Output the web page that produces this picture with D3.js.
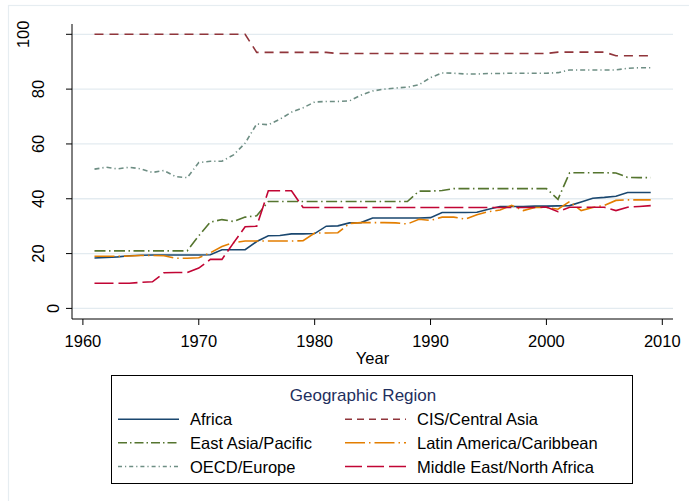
<!DOCTYPE html>
<html>
<head>
<meta charset="utf-8">
<script src="https://cdn.jsdelivr.net/npm/d3@7"></script>
<style>
  body { margin: 0; background: #fff; }
  text { font-family: 'Liberation Sans', Arial, sans-serif; }
</style>
</head>
<body>
<script>
const years = [1961, 1962, 1963, 1964, 1965, 1966, 1967, 1968, 1969, 1970,
  1971, 1972, 1973, 1974, 1975, 1976, 1977, 1978, 1979, 1980,
  1981, 1982, 1983, 1984, 1985, 1986, 1987, 1988, 1989, 1990,
  1991, 1992, 1993, 1994, 1995, 1996, 1997, 1998, 1999, 2000,
  2001, 2002, 2003, 2004, 2005, 2006, 2007, 2008, 2009];

const africa = [18.4, 18.6, 18.8, 19.2, 19.4, 19.5, 19.5, 19.5, 19.5, 19.5,
  19.6, 21.4, 21.4, 21.4, 24.4, 26.5, 26.6, 27.2, 27.2, 27.3,
  30.0, 30.1, 31.2, 31.3, 33.0, 33.0, 33.0, 33.0, 33.0, 33.1,
  35.0, 35.0, 35.0, 35.1, 36.2, 37.2, 37.2, 37.2, 37.3, 37.3,
  37.4, 37.5, 38.8, 40.2, 40.5, 40.9, 42.3, 42.3, 42.3];

const cis = [100, 100, 100, 100, 100, 100, 100, 100, 100, 100,
  100, 100, 100, 100, 93.4, 93.4, 93.4, 93.4, 93.4, 93.4,
  93.4, 93.0, 93.0, 93.0, 93.0, 93.0, 93.0, 93.0, 93.0, 93.0,
  93.0, 93.0, 93.0, 93.0, 93.0, 93.0, 93.0, 93.0, 93.0, 93.0,
  93.5, 93.5, 93.5, 93.5, 93.5, 92.2, 92.2, 92.2, 92.2];

const eastAsia = [21.0, 21.0, 21.0, 21.0, 21.0, 21.0, 21.0, 21.0, 21.0, 26.5,
  31.5, 32.4, 31.7, 33.3, 33.8, 39.0, 39.0, 39.0, 39.0, 39.0,
  39.0, 39.0, 39.0, 39.0, 39.0, 39.0, 39.0, 39.0, 42.8, 42.8,
  43.0, 43.7, 43.7, 43.7, 43.7, 43.7, 43.7, 43.7, 43.7, 43.7,
  39.8, 49.5, 49.5, 49.5, 49.5, 49.4, 47.8, 47.7, 47.7];

const latinAmerica = [19.0, 19.0, 19.0, 19.1, 19.3, 19.3, 19.2, 18.3, 18.3, 18.5,
  20.3, 22.6, 24.0, 24.6, 24.6, 24.6, 24.6, 24.6, 24.7, 27.5,
  27.5, 27.6, 31.0, 31.3, 31.3, 31.3, 31.2, 30.8, 32.5, 32.1,
  33.3, 33.3, 32.6, 34.2, 35.3, 35.9, 37.6, 35.7, 36.8, 36.8,
  36.2, 39.0, 35.7, 36.8, 37.6, 39.4, 39.6, 39.6, 39.6];

const oecd = [50.8, 51.5, 50.9, 51.5, 50.9, 49.6, 50.3, 48.1, 47.7, 53.2,
  53.7, 53.7, 56.0, 60.3, 67.3, 67.0, 69.0, 71.6, 73.2, 75.3,
  75.5, 75.5, 75.7, 77.8, 79.3, 80.0, 80.4, 80.7, 81.6, 84.2,
  85.9, 85.8, 85.5, 85.5, 85.7, 85.7, 85.8, 85.8, 85.8, 85.8,
  86.0, 87.0, 87.0, 87.0, 87.0, 87.0, 87.6, 87.8, 87.8];

const middleEast = [9.2, 9.2, 9.2, 9.2, 9.5, 9.7, 13.0, 13.1, 13.1, 14.7,
  17.9, 17.9, 23.9, 29.8, 30.0, 42.9, 42.9, 42.9, 36.8, 36.8,
  36.8, 36.8, 36.8, 36.8, 36.8, 36.8, 36.8, 36.8, 36.8, 36.8,
  36.8, 36.8, 36.8, 36.8, 36.8, 36.8, 36.8, 36.8, 36.8, 37.0,
  35.3, 36.9, 36.9, 36.9, 36.9, 35.7, 36.9, 37.2, 37.5];

const xTicks = [1960, 1970, 1980, 1990, 2000, 2010];
const yTicks = [0, 20, 40, 60, 80, 100];

const series = [
  { name: 'Africa', values: africa, color: '#1a476f', dash: null, legendDash: null },
  { name: 'CIS/Central Asia', values: cis, color: '#90353b', dash: '9,6', legendDash: '7,5' },
  { name: 'East Asia/Pacific', values: eastAsia, color: '#55752f', dash: '11,3.5,1.5,3.5', legendDash: '9,3,1.5,3' },
  { name: 'Latin America/Caribbean', values: latinAmerica, color: '#e37e00', dash: '20,4,1.5,4', legendDash: '20,4,1.5,4' },
  { name: 'OECD/Europe', values: oecd, color: '#6e8e84', dash: '5,3,1.2,3', legendDash: '4,3,1.2,3' },
  { name: 'Middle East/North Africa', values: middleEast, color: '#c10534', dash: '19,5', legendDash: '17,5' }
];

const width = 689,
  height = 501;

const plot = { left: 72, right: 673, top: 24, bottom: 319 };

const x = d3.scaleLinear().domain([1960, 2010]).range([82.9, 662.3]);
const y = d3.scaleLinear().domain([0, 100]).range([308.4, 34.3]);

const svg = d3
  .select('body')
  .append('svg')
  .attr('width', width)
  .attr('height', height);

// faint graph region border
svg
  .append('rect')
  .attr('x', 8.5)
  .attr('y', 5.5)
  .attr('width', 700)
  .attr('height', 520)
  .style('fill', 'none')
  .style('stroke', '#e6edf1')
  .style('stroke-width', 1.2);

// gridlines
svg
  .selectAll('.grid')
  .data(yTicks)
  .enter()
  .append('line')
  .attr('class', 'grid')
  .attr('x1', plot.left)
  .attr('x2', plot.right)
  .attr('y1', d => y(d))
  .attr('y2', d => y(d))
  .style('stroke', '#e3ebf0')
  .style('stroke-width', 1.3);

// lines
const line = d3
  .line()
  .x((d, i) => x(years[i]))
  .y(d => y(d));

svg
  .selectAll('.series')
  .data(series)
  .enter()
  .append('path')
  .attr('class', 'series')
  .attr('d', d => line(d.values))
  .style('fill', 'none')
  .style('stroke', d => d.color)
  .style('stroke-width', 1.6)
  .style('stroke-dasharray', d => d.dash);

// y axis
const yAxis = svg.append('g').attr('transform', `translate(${plot.left},0)`);
yAxis
  .append('line')
  .attr('y1', plot.top)
  .attr('y2', plot.bottom)
  .style('stroke', '#000');
yAxis
  .selectAll('.ytick')
  .data(yTicks)
  .enter()
  .append('line')
  .attr('x1', -6)
  .attr('x2', 0)
  .attr('y1', d => y(d))
  .attr('y2', d => y(d))
  .style('stroke', '#000');
yAxis
  .selectAll('.ylab')
  .data(yTicks)
  .enter()
  .append('text')
  .attr('transform', d => `translate(${2 - 15 * String(d).length},${y(d)}) rotate(-90)`)
  .attr('text-anchor', 'middle')
  .style('font-size', '16.5px')
  .text(d => d);

// x axis
const xAxis = svg.append('g').attr('transform', `translate(0,${plot.bottom})`);
xAxis
  .append('line')
  .attr('x1', plot.left)
  .attr('x2', plot.right)
  .style('stroke', '#000');
xAxis
  .selectAll('.xtick')
  .data(xTicks)
  .enter()
  .append('line')
  .attr('x1', d => x(d))
  .attr('x2', d => x(d))
  .attr('y1', 0)
  .attr('y2', 6)
  .style('stroke', '#000');
xAxis
  .selectAll('.xlab')
  .data(xTicks)
  .enter()
  .append('text')
  .attr('x', d => x(d))
  .attr('y', 28)
  .attr('text-anchor', 'middle')
  .style('font-size', '16.5px')
  .text(d => d);

svg
  .append('text')
  .attr('x', (plot.left + plot.right) / 2)
  .attr('y', 364)
  .attr('text-anchor', 'middle')
  .style('font-size', '16.5px')
  .text('Year');

// legend
const legend = svg.append('g');
legend
  .append('rect')
  .attr('x', 111.5)
  .attr('y', 375.5)
  .attr('width', 521)
  .attr('height', 108)
  .style('fill', '#fff')
  .style('stroke', '#000');
legend
  .append('text')
  .attr('x', 363)
  .attr('y', 400.5)
  .attr('text-anchor', 'middle')
  .style('font-size', '17px')
  .style('fill', '#1f2f5e')
  .text('Geographic Region');

const rowY = [419.3, 442.8, 466.5];
const colX = [118, 345];

const items = legend
  .selectAll('.item')
  .data(series)
  .enter()
  .append('g')
  .attr('class', 'item')
  .attr('transform', (d, i) => `translate(${colX[i % 2]},${rowY[Math.floor(i / 2)]})`);
items
  .append('line')
  .attr('x1', 0)
  .attr('x2', 61)
  .style('stroke', d => d.color)
  .style('stroke-width', 1.6)
  .style('stroke-dasharray', d => d.legendDash);
items
  .append('text')
  .attr('x', 72)
  .attr('y', 6)
  .style('font-size', '16.5px')
  .text(d => d.name);
</script>
</body>
</html>
